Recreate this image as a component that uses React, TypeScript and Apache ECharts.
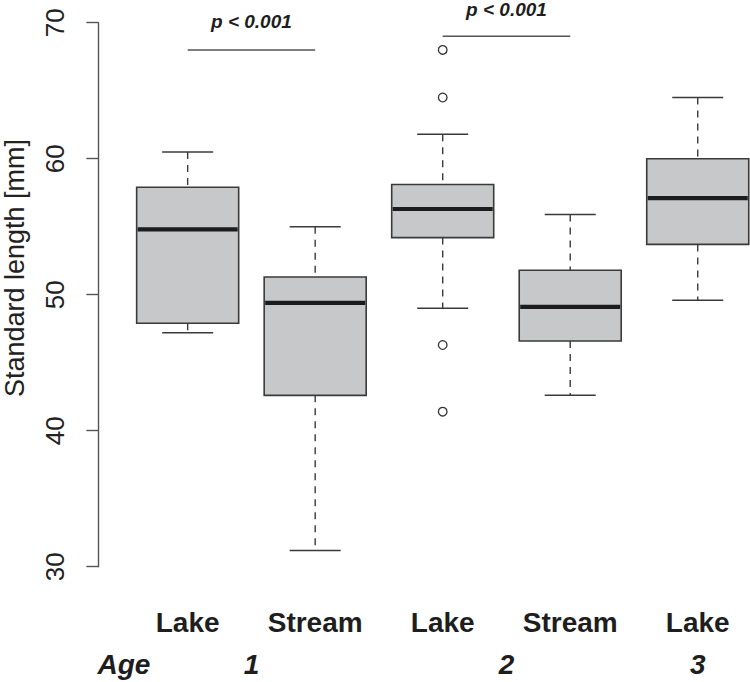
import React, { useEffect, useRef } from "react";
import * as echarts from "echarts";

const groups = ["Lake", "Stream", "Lake", "Stream", "Lake"];
const lowerWhisker = [47.2, 31.2, 49.0, 42.6, 49.6];
const q1 = [47.9, 42.6, 54.2, 46.6, 53.7];
const median = [54.8, 49.4, 56.3, 49.1, 57.1];
const q3 = [57.9, 51.3, 58.1, 51.8, 60.0];
const upperWhisker = [60.5, 55.0, 61.8, 55.9, 64.5];

const outlierGroup = [3, 3, 3, 3];
const outlierValues = [68.0, 64.5, 46.3, 41.4];

const sigFrom = [1, 3];
const sigTo = [2, 4];
const sigY = [68.0, 69.0];
const sigLabelY = [70.1, 71.0];
const sigLabels = ["p < 0.001", "p < 0.001"];

const ageLabels = ["Age", "1", "2", "3"];
const agePositions = [0.5, 1.5, 3.5, 5];

const yTicks = { min: 30, max: 70, interval: 10 };

const FONT = "'Liberation Sans', Arial, Helvetica, sans-serif";

export default function App() {
  const ref = useRef<HTMLDivElement>(null);
  useEffect(() => {
    if (!ref.current) return;
    const chart = echarts.init(ref.current, undefined, { renderer: "svg" });

    const boxData = groups.map((_, i) => [
      i + 1,
      lowerWhisker[i],
      q1[i],
      median[i],
      q3[i],
      upperWhisker[i],
    ]);
    const outData = outlierGroup.map((g, i) => [g, outlierValues[i]]);
    const sigData = sigFrom.map((f, i) => [f, sigTo[i], sigY[i], sigLabelY[i]]);

    const boxStroke = "#3a3a3a";
    const renderBox = (_params: any, api: any) => {
      const x = api.value(0);
      const lo = api.value(1);
      const b1 = api.value(2);
      const md = api.value(3);
      const b3 = api.value(4);
      const hi = api.value(5);
      const tl = api.coord([x - 0.4, b3]);
      const br = api.coord([x + 0.4, b1]);
      const cLo = api.coord([x, lo]);
      const cHi = api.coord([x, hi]);
      const capL = api.coord([x - 0.2, 0])[0];
      const capR = api.coord([x + 0.2, 0])[0];
      const mY = api.coord([x, md])[1];
      const cx = cLo[0];
      const dash = { stroke: boxStroke, lineWidth: 1.4, lineDash: [7, 6] };
      const solid = { stroke: boxStroke, lineWidth: 1.5 };
      return {
        type: "group",
        children: [
          { type: "line", shape: { x1: cx, y1: cHi[1], x2: cx, y2: tl[1] }, style: dash },
          { type: "line", shape: { x1: cx, y1: br[1], x2: cx, y2: cLo[1] }, style: dash },
          { type: "line", shape: { x1: capL, y1: cHi[1], x2: capR, y2: cHi[1] }, style: solid },
          { type: "line", shape: { x1: capL, y1: cLo[1], x2: capR, y2: cLo[1] }, style: solid },
          {
            type: "rect",
            shape: { x: tl[0], y: tl[1], width: br[0] - tl[0], height: br[1] - tl[1] },
            style: { fill: "#c7c8ca", stroke: boxStroke, lineWidth: 1.6 },
          },
          {
            type: "line",
            shape: { x1: tl[0] + 1, y1: mY, x2: br[0] - 1, y2: mY },
            style: { stroke: "#1c1c1c", lineWidth: 4.2 },
          },
        ],
      };
    };

    const renderOutlier = (_params: any, api: any) => {
      const p = api.coord([api.value(0), api.value(1)]);
      return {
        type: "circle",
        shape: { cx: p[0], cy: p[1], r: 4.3 },
        style: { fill: "#ffffff", stroke: "#333333", lineWidth: 1.3 },
      };
    };

    const renderSig = (params: any, api: any) => {
      const a = api.coord([api.value(0), api.value(2)]);
      const b = api.coord([api.value(1), api.value(2)]);
      const t = api.coord([(api.value(0) + api.value(1)) / 2, api.value(3)]);
      return {
        type: "group",
        children: [
          {
            type: "line",
            shape: { x1: a[0], y1: a[1], x2: b[0], y2: b[1] },
            style: { stroke: "#555", lineWidth: 1.5 },
          },
          {
            type: "text",
            x: t[0],
            y: t[1],
            style: {
              text: sigLabels[params.dataIndex],
              fill: "#1e1e1e",
              font: `italic bold 19px ${FONT}`,
              align: "center",
              verticalAlign: "middle",
            },
          },
        ],
      };
    };

    chart.setOption({
      animation: false,
      backgroundColor: "#ffffff",
      grid: { left: 98.4, top: 22.7, width: 688.6, height: 544, outerBoundsMode: "none", containLabel: false },
      xAxis: [
        {
          type: "value",
          min: 0.3,
          max: 5.7,
          position: "bottom",
          axisLine: { show: false },
          axisTick: { show: false },
          splitLine: { show: false },
          axisLabel: {
            customValues: [1, 2, 3, 4, 5],
            formatter: (v: number) => groups[Math.round(v) - 1] ?? "",
            fontFamily: FONT,
            fontSize: 28,
            fontWeight: "bold",
            color: "#1e1e1e",
            margin: 42,
            showMinLabel: true,
            showMaxLabel: true,
          },
        },
        {
          type: "value",
          min: 0.3,
          max: 5.7,
          position: "bottom",
          axisLine: { show: false },
          axisTick: { show: false },
          splitLine: { show: false },
          axisLabel: {
            customValues: agePositions,
            formatter: (v: number) => {
              const idx = agePositions.findIndex((p) => Math.abs(p - v) < 1e-6);
              return idx >= 0 ? ageLabels[idx] : "";
            },
            fontFamily: FONT,
            fontSize: 28,
            fontWeight: "bold",
            fontStyle: "italic",
            color: "#1e1e1e",
            margin: 84,
            showMinLabel: true,
            showMaxLabel: true,
          },
        },
      ],
      yAxis: {
        type: "value",
        min: yTicks.min,
        max: yTicks.max,
        interval: yTicks.interval,
        axisLine: { show: true, lineStyle: { color: "#555", width: 1.4 } },
        axisTick: { show: true, length: 12, lineStyle: { color: "#555", width: 1.4 } },
        splitLine: { show: false },
        axisLabel: {
          rotate: 90,
          fontFamily: FONT,
          fontSize: 26,
          color: "#222",
          margin: 30,
        },
      },
      graphic: [
        {
          type: "text",
          x: 15,
          y: 268,
          rotation: Math.PI / 2,
          style: {
            text: "Standard length [mm]",
            font: `27px ${FONT}`,
            fill: "#222",
            align: "center",
            verticalAlign: "middle",
          },
        },
      ],
      series: [
        {
          type: "custom",
          xAxisIndex: 0,
          renderItem: renderBox,
          data: boxData,
          clip: false,
          z: 2,
        },
        {
          type: "custom",
          xAxisIndex: 0,
          renderItem: renderOutlier,
          data: outData,
          clip: false,
          z: 3,
        },
        {
          type: "custom",
          xAxisIndex: 0,
          renderItem: renderSig,
          data: sigData,
          clip: false,
          z: 3,
        },
      ],
    });
    return () => chart.dispose();
  }, []);
  return <div ref={ref} style={{ width: 750, height: 682, position: "absolute", left: 0, top: 0 }} />;
}
